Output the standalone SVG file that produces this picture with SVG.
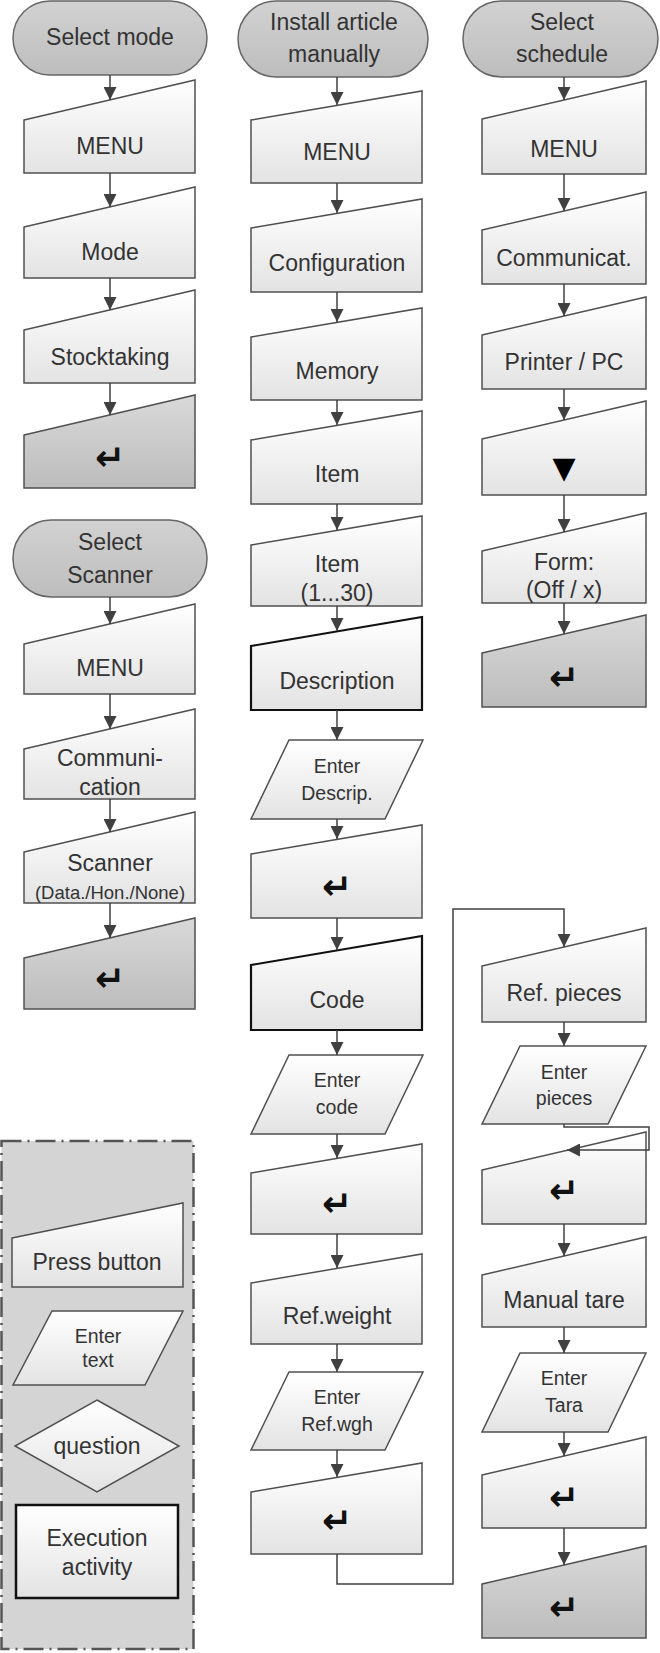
<svg xmlns="http://www.w3.org/2000/svg" width="660" height="1653" viewBox="0 0 660 1653">
<defs>
<linearGradient id="gLight" x1="0" y1="0" x2="0" y2="1"><stop offset="0" stop-color="#ffffff"/><stop offset="1" stop-color="#e3e3e3"/></linearGradient>
<linearGradient id="gGray" x1="0" y1="0" x2="0" y2="1"><stop offset="0" stop-color="#d9d9d9"/><stop offset="1" stop-color="#bcbcbc"/></linearGradient>
<linearGradient id="gTerm" x1="0" y1="0" x2="0" y2="1"><stop offset="0" stop-color="#d2d2d2"/><stop offset="1" stop-color="#bdbdbd"/></linearGradient>
<marker id="arr" viewBox="0 0 10 10" refX="10" refY="5" markerWidth="13" markerHeight="13" markerUnits="userSpaceOnUse" orient="auto"><path d="M0,0 L10,5 L0,10 z" fill="#404040"/></marker>
</defs>
<style>
.pb{fill:url(#gLight);stroke:#505050;stroke-width:1.5}
.pbk{fill:url(#gLight);stroke:#111;stroke-width:2.2}
.gb{fill:url(#gGray);stroke:#505050;stroke-width:1.5}
.tm{fill:url(#gTerm);stroke:#666;stroke-width:1.5}
.t{font-family:"Liberation Sans",Arial,sans-serif;font-size:23px;fill:#333;text-anchor:middle}
.ts{font-family:"Liberation Sans",Arial,sans-serif;font-size:19.5px;fill:#333;text-anchor:middle}
.tx{font-family:"Liberation Sans",Arial,sans-serif;font-size:18.5px;fill:#333;text-anchor:middle}
.sym{font-family:"DejaVu Sans",sans-serif;font-size:36px;font-weight:bold;fill:#111;text-anchor:middle}
.tri{font-family:"DejaVu Sans",sans-serif;font-size:30px;fill:#000;text-anchor:middle}
.cn{fill:none;stroke:#404040;stroke-width:1.5}
.lg{fill:#d4d4d4;stroke:#555;stroke-width:2.5;stroke-dasharray:20 6 2 6}
</style>

<g id="legend">
<rect class="lg" x="1.5" y="1141" width="192" height="508"/>
<polygon class="pb" points="12,1238 183,1203 183,1287 12,1287"/>
<text class="t" x="97" y="1270">Press button</text>
<polygon class="pb" points="52,1311 183,1311 145,1385 13,1385"/>
<text class="ts" x="98" y="1343">Enter</text>
<text class="ts" x="98" y="1367">text</text>
<polygon class="pb" points="97,1400 179,1446 97,1492 15,1446"/>
<text class="t" x="97" y="1454">question</text>
<rect x="16" y="1505" width="162" height="93" fill="url(#gLight)" stroke="#111" stroke-width="2.5"/>
<text class="t" x="97" y="1546">Execution</text>
<text class="t" x="97" y="1575">activity</text>
</g>

<g id="c1-start"><rect class="tm" x="13" y="1" width="194" height="74" rx="37"/><text class="t" x="110" y="45">Select mode</text></g>
<g id="c1-menu"><polygon class="pb" points="24,120 195,80 195,173 24,173"/><text class="t" x="110" y="154">MENU</text></g>
<g id="c1-mode"><polygon class="pb" points="24,227 195,187 195,278 24,278"/><text class="t" x="110" y="260">Mode</text></g>
<g id="c1-stock"><polygon class="pb" points="24,330 195,290 195,383 24,383"/><text class="t" x="110" y="365">Stocktaking</text></g>
<g id="c1-enter1"><polygon class="gb" points="24,435 195,395 195,488 24,488"/><text class="sym" x="110" y="470">↵</text></g>

<g id="c1b-start"><rect class="tm" x="13" y="520" width="194" height="77" rx="38"/><text class="t" x="110" y="550">Select</text><text class="t" x="110" y="583">Scanner</text></g>
<g id="c1b-menu"><polygon class="pb" points="24,644 195,604 195,694 24,694"/><text class="t" x="110" y="676">MENU</text></g>
<g id="c1b-comm"><polygon class="pb" points="24,749 195,709 195,799 24,799"/><text class="t" x="110" y="766">Communi-</text><text class="t" x="110" y="795">cation</text></g>
<g id="c1b-scanner"><polygon class="pb" points="24,852 195,812 195,903 24,903"/><text class="t" x="110" y="871">Scanner</text><text class="tx" x="110" y="899">(Data./Hon./None)</text></g>
<g id="c1b-enter"><polygon class="gb" points="24,958 195,918 195,1009 24,1009"/><text class="sym" x="110" y="991">↵</text></g>

<g id="c2-start"><rect class="tm" x="238" y="1" width="190" height="76" rx="38"/><text class="t" x="334" y="30">Install article</text><text class="t" x="334" y="62">manually</text></g>
<g id="c2-menu"><polygon class="pb" points="251,120 422,91 422,183 251,183"/><text class="t" x="337" y="160">MENU</text></g>
<g id="c2-config"><polygon class="pb" points="251,228 422,199 422,292 251,292"/><text class="t" x="337" y="271">Configuration</text></g>
<g id="c2-memory"><polygon class="pb" points="251,337 422,308 422,400 251,400"/><text class="t" x="337" y="379">Memory</text></g>
<g id="c2-item"><polygon class="pb" points="251,440 422,411 422,504 251,504"/><text class="t" x="337" y="482">Item</text></g>
<g id="c2-item130"><polygon class="pb" points="251,545 422,516 422,606 251,606"/><text class="t" x="337" y="572">Item</text><text class="t" x="337" y="601">(1...30)</text></g>
<g id="c2-desc"><polygon class="pbk" points="251,646 422,617 422,710 251,710"/><text class="t" x="337" y="689">Description</text></g>
<g id="c2-enterdesc"><polygon class="pb" points="289,740 423,740 385,819 251,819"/><text class="ts" x="337" y="773">Enter</text><text class="ts" x="337" y="800">Descrip.</text></g>
<g id="c2-enter1"><polygon class="pb" points="251,854 422,825 422,918 251,918"/><text class="sym" x="337" y="899">↵</text></g>
<g id="c2-code"><polygon class="pbk" points="251,965 422,936 422,1030 251,1030"/><text class="t" x="337" y="1008">Code</text></g>
<g id="c2-entercode"><polygon class="pb" points="289,1055 423,1055 385,1134 251,1134"/><text class="ts" x="337" y="1087">Enter</text><text class="ts" x="337" y="1114">code</text></g>
<g id="c2-enter2"><polygon class="pb" points="251,1173 422,1144 422,1234 251,1234"/><text class="sym" x="337" y="1216">↵</text></g>
<g id="c2-refweight"><polygon class="pb" points="251,1283 422,1254 422,1344 251,1344"/><text class="t" x="337" y="1324">Ref.weight</text></g>
<g id="c2-enterrefwgh"><polygon class="pb" points="289,1372 423,1372 385,1450 251,1450"/><text class="ts" x="337" y="1404">Enter</text><text class="ts" x="337" y="1431">Ref.wgh</text></g>
<g id="c2-enter3"><polygon class="pb" points="251,1492 422,1463 422,1554 251,1554"/><text class="sym" x="337" y="1533">↵</text></g>

<g id="c3-start"><rect class="tm" x="463" y="1" width="195" height="76" rx="38"/><text class="t" x="562" y="30">Select</text><text class="t" x="562" y="62">schedule</text></g>
<g id="c3-menu"><polygon class="pb" points="482,119 646,81 646,174 482,174"/><text class="t" x="564" y="157">MENU</text></g>
<g id="c3-comm"><polygon class="pb" points="482,230 646,192 646,284 482,284"/><text class="t" x="564" y="266">Communicat.</text></g>
<g id="c3-printer"><polygon class="pb" points="482,335 646,297 646,389 482,389"/><text class="t" x="564" y="370">Printer / PC</text></g>
<g id="c3-down"><polygon class="pb" points="482,439 646,401 646,495 482,495"/><text class="tri" x="564" y="478">▼</text></g>
<g id="c3-form"><polygon class="pb" points="482,551 646,513 646,603 482,603"/><text class="t" x="564" y="570">Form:</text><text class="t" x="564" y="598">(Off / x)</text></g>
<g id="c3-enter1"><polygon class="gb" points="482,653 646,615 646,707 482,707"/><text class="sym" x="564" y="690">↵</text></g>

<g id="c3-refpieces"><polygon class="pb" points="482,966 646,928 646,1022 482,1022"/><text class="t" x="564" y="1001">Ref. pieces</text></g>
<g id="c3-enterpieces"><polygon class="pb" points="520,1046 646,1046 608,1124 482,1124"/><text class="ts" x="564" y="1079">Enter</text><text class="ts" x="564" y="1105">pieces</text></g>
<g id="c3-enter2"><polygon class="pb" points="482,1170 646,1132 646,1224 482,1224"/><text class="sym" x="564" y="1203">↵</text></g>
<g id="c3-manualtare"><polygon class="pb" points="482,1275 646,1237 646,1327 482,1327"/><text class="t" x="564" y="1308">Manual tare</text></g>
<g id="c3-entertara"><polygon class="pb" points="520,1353 646,1353 608,1432 482,1432"/><text class="ts" x="564" y="1385">Enter</text><text class="ts" x="564" y="1412">Tara</text></g>
<g id="c3-enter3"><polygon class="pb" points="482,1475 646,1437 646,1528 482,1528"/><text class="sym" x="564" y="1510">↵</text></g>
<g id="c3-enter4"><polygon class="gb" points="482,1584 646,1546 646,1638 482,1638"/><text class="sym" x="564" y="1620">↵</text></g>

<g id="connectors">
<line class="cn" x1="110" y1="75" x2="110" y2="100" marker-end="url(#arr)"/>
<line class="cn" x1="110" y1="173" x2="110" y2="207" marker-end="url(#arr)"/>
<line class="cn" x1="110" y1="278" x2="110" y2="310" marker-end="url(#arr)"/>
<line class="cn" x1="110" y1="383" x2="110" y2="415" marker-end="url(#arr)"/>
<line class="cn" x1="110" y1="597" x2="110" y2="624" marker-end="url(#arr)"/>
<line class="cn" x1="110" y1="694" x2="110" y2="729" marker-end="url(#arr)"/>
<line class="cn" x1="110" y1="799" x2="110" y2="832" marker-end="url(#arr)"/>
<line class="cn" x1="110" y1="903" x2="110" y2="938" marker-end="url(#arr)"/>

<line class="cn" x1="337" y1="77" x2="337" y2="105" marker-end="url(#arr)"/>
<line class="cn" x1="337" y1="183" x2="337" y2="213" marker-end="url(#arr)"/>
<line class="cn" x1="337" y1="292" x2="337" y2="322" marker-end="url(#arr)"/>
<line class="cn" x1="337" y1="400" x2="337" y2="425" marker-end="url(#arr)"/>
<line class="cn" x1="337" y1="504" x2="337" y2="530" marker-end="url(#arr)"/>
<line class="cn" x1="337" y1="606" x2="337" y2="631" marker-end="url(#arr)"/>
<line class="cn" x1="337" y1="710" x2="337" y2="740" marker-end="url(#arr)"/>
<line class="cn" x1="337" y1="819" x2="337" y2="839" marker-end="url(#arr)"/>
<line class="cn" x1="337" y1="918" x2="337" y2="950" marker-end="url(#arr)"/>
<line class="cn" x1="337" y1="1030" x2="337" y2="1055" marker-end="url(#arr)"/>
<line class="cn" x1="337" y1="1134" x2="337" y2="1158" marker-end="url(#arr)"/>
<line class="cn" x1="337" y1="1234" x2="337" y2="1268" marker-end="url(#arr)"/>
<line class="cn" x1="337" y1="1344" x2="337" y2="1372" marker-end="url(#arr)"/>
<line class="cn" x1="337" y1="1450" x2="337" y2="1477" marker-end="url(#arr)"/>
<path class="cn" d="M337,1554 V1584 H453 V909 H564 V947" marker-end="url(#arr)"/>

<line class="cn" x1="564" y1="77" x2="564" y2="100" marker-end="url(#arr)"/>
<line class="cn" x1="564" y1="174" x2="564" y2="211" marker-end="url(#arr)"/>
<line class="cn" x1="564" y1="284" x2="564" y2="316" marker-end="url(#arr)"/>
<line class="cn" x1="564" y1="389" x2="564" y2="420" marker-end="url(#arr)"/>
<line class="cn" x1="564" y1="495" x2="564" y2="532" marker-end="url(#arr)"/>
<line class="cn" x1="564" y1="603" x2="564" y2="634" marker-end="url(#arr)"/>
<line class="cn" x1="564" y1="1022" x2="564" y2="1046" marker-end="url(#arr)"/>
<path class="cn" d="M564,1124 V1127 H649 V1150 H567" marker-end="url(#arr)"/>
<line class="cn" x1="564" y1="1224" x2="564" y2="1256" marker-end="url(#arr)"/>
<line class="cn" x1="564" y1="1327" x2="564" y2="1353" marker-end="url(#arr)"/>
<line class="cn" x1="564" y1="1432" x2="564" y2="1456" marker-end="url(#arr)"/>
<line class="cn" x1="564" y1="1528" x2="564" y2="1565" marker-end="url(#arr)"/>
</g>
</svg>
